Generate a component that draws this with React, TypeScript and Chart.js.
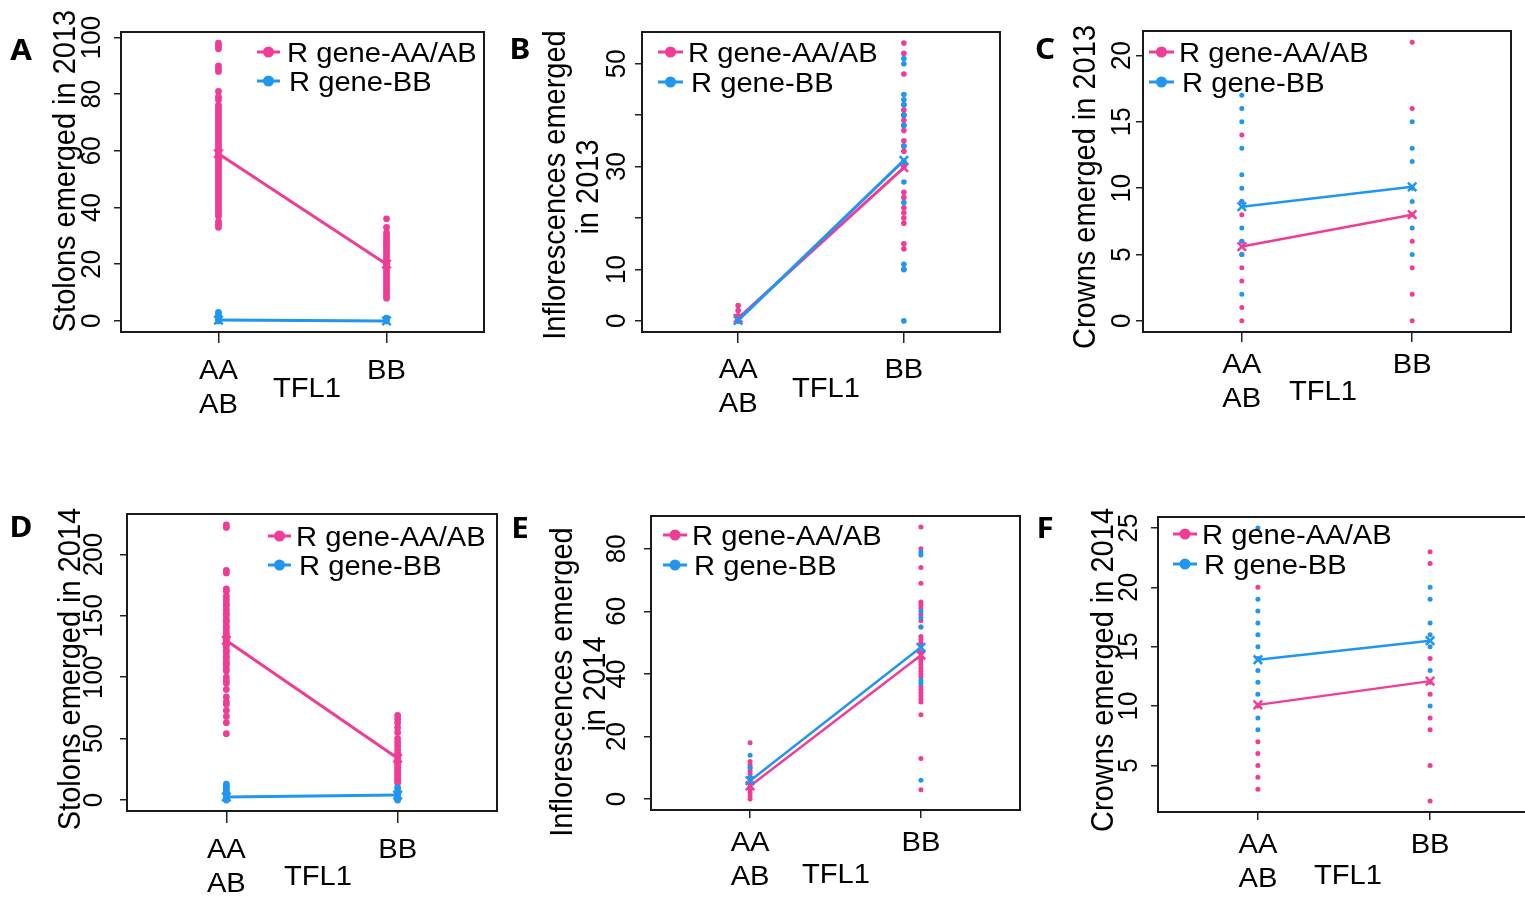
import React, { useEffect, useRef } from 'react';
import { Chart, registerables } from 'chart.js';

Chart.register(...registerables);

const PINK = '#F03C96';
const BLUE = '#2196F0';
const INK = '#000000';
const FONT = "'Liberation Sans', Arial, Helvetica, sans-serif";
const LETTER_FONT = "'Noto Sans', 'Open Sans', 'DejaVu Sans', sans-serif";
const STRETCH = 1.08;

const GENOTYPE_POS = [0, 1];
const GENOTYPE_LABELS = [['AA', 'AB'], ['BB']];
const X_TITLE = 'TFL1';
const LEGEND_LABELS = ['R gene-AA/AB', 'R gene-BB'];

// ---------- Panel A : stolons 2013 ----------
const A_PINK_AA = [98, 97, 96, 90, 89, 88, 81, 79, 78, 76, 75, 74, 73, 72, 71, 70, 69, 68, 67, 66, 65, 64, 63, 62, 61, 60, 59, 58, 57, 56, 55, 54, 53, 52, 51, 50, 49, 48, 47, 46, 45, 44, 43, 42, 41, 40, 39, 38, 37, 35, 34, 33];
const A_PINK_BB = [36, 33, 31, 30, 29, 28, 27, 26, 25, 24, 23, 22, 21, 20, 19, 18, 17, 16, 15, 14, 13, 12, 11, 10, 9, 8];
const A_BLUE_AA = [3, 2, 1, 0];
const A_BLUE_BB = [1, 0];
const A_MEAN_PINK = [59, 20];
const A_MEAN_BLUE = [0.3, 0];
const A_Y_TICKS = [0, 20, 40, 60, 80, 100];
const A_Y_LABELS = [0, 20, 40, 60, 80, 100];
const A_Y_TITLE = ['Stolons emerged in 2013'];

// ---------- Panel B : inflorescences 2013 ----------
const B_PINK_AA = [3, 2, 1, 0];
const B_PINK_BB = [54, 52, 48, 42, 41, 40, 39, 38, 37, 35, 34, 33, 30, 25, 24, 22, 21, 20, 19, 15, 14, 10];
const B_BLUE_AA = [0];
const B_BLUE_BB = [51, 50, 44, 43, 42, 40, 38, 34, 31, 27, 23, 11, 10, 0];
const B_MEAN_PINK = [0.5, 29.8];
const B_MEAN_BLUE = [0.1, 31.2];
const B_Y_TICKS = [0, 10, 20, 30, 40, 50];
const B_Y_LABELS = [0, 10, 30, 50];
const B_Y_TITLE = ['Inflorescences emerged', 'in 2013'];

// ---------- Panel C : crowns 2013 ----------
const C_PINK_AA = [14, 9, 8, 6, 5, 4, 3, 1, 0];
const C_PINK_BB = [21, 16, 8, 6, 4, 2, 0];
const C_BLUE_AA = [17, 16, 15, 13, 11, 10, 9, 7, 6, 5, 2];
const C_BLUE_BB = [15, 13, 12, 10, 9, 7, 5];
const C_MEAN_PINK = [5.6, 8.0];
const C_MEAN_BLUE = [8.6, 10.1];
const C_Y_TICKS = [0, 5, 10, 15, 20];
const C_Y_LABELS = [0, 5, 10, 15, 20];
const C_Y_TITLE = ['Crowns emerged in 2013'];

// ---------- Panel D : stolons 2014 ----------
const D_PINK_AA = [224, 222, 187, 185, 172, 170, 166, 163, 160, 158, 155, 152, 150, 147, 145, 142, 140, 137, 135, 132, 130, 127, 125, 122, 120, 117, 115, 112, 110, 107, 105, 100, 97, 95, 90, 84, 80, 78, 73, 68, 63, 54];
const D_PINK_BB = [69, 66, 63, 59, 55, 50, 47, 44, 41, 38, 36, 33, 30, 28, 26, 24, 22, 20, 18, 16, 14];
const D_BLUE_AA = [13, 11, 9, 7, 5, 3, 1, 0];
const D_BLUE_BB = [10, 7, 5, 3, 1, 0];
const D_MEAN_PINK = [130, 34];
const D_MEAN_BLUE = [2.5, 4];
const D_Y_TICKS = [0, 50, 100, 150, 200];
const D_Y_LABELS = [0, 50, 100, 150, 200];
const D_Y_TITLE = ['Stolons emerged in 2014'];

// ---------- Panel E : inflorescences 2014 ----------
const E_PINK_AA = [18, 12, 11, 10, 9, 8, 7, 6, 5, 4, 3, 2, 1, 0];
const E_PINK_BB = [87, 80, 74, 69, 63, 62, 61, 59, 57, 55, 52, 51, 50, 49, 47, 45, 44, 43, 42, 41, 40, 39, 36, 35, 34, 33, 32, 31, 27, 13, 3];
const E_BLUE_AA = [14, 10, 7];
const E_BLUE_BB = [79, 78, 60, 58, 55, 38, 37, 6];
const E_MEAN_PINK = [4.2, 46];
const E_MEAN_BLUE = [5.9, 48.5];
const E_Y_TICKS = [0, 20, 40, 60, 80];
const E_Y_LABELS = [0, 20, 40, 60, 80];
const E_Y_TITLE = ['Inflorescences emerged', 'in 2014'];

// ---------- Panel F : crowns 2014 ----------
const F_PINK_AA = [20, 10, 7, 6, 5, 4, 3];
const F_PINK_BB = [23, 22, 14, 12, 11, 9, 8, 5, 2];
const F_BLUE_AA = [25, 19, 18, 17, 16, 15, 14, 13, 12, 11, 9, 8];
const F_BLUE_BB = [20, 19, 17, 16, 15, 13, 10];
const F_MEAN_PINK = [10.1, 12.1];
const F_MEAN_BLUE = [13.9, 15.5];
const F_Y_TICKS = [5, 10, 15, 20, 25];
const F_Y_LABELS = [5, 10, 15, 20, 25];
const F_Y_TITLE = ['Crowns emerged in 2014'];

type PanelCfg = {
  letter: string;
  letterAt: number[];
  canvas: number[];
  box: number[];
  yRange: number[];
  yTicks: number[];
  yLabels: number[];
  yLabelX: number;
  yTitle: string[];
  yTitleAt: number[][];
  pinkAA: number[];
  pinkBB: number[];
  blueAA: number[];
  blueBB: number[];
  meanPink: number[];
  meanBlue: number[];
  legend: { x0: number; x1: number; ys: number[]; tx: number[] };
  tflAt: number[];
  xLabelDy: number;
  xTickLen: number;
  dotR: number;
  lineW: number;
};

const PANELS: PanelCfg[] = [
  {
    letter: 'A', letterAt: [21, 52], canvas: [0, 0, 500, 430], box: [121, 32, 484, 332],
    yRange: [-3.92, 101.92], yTicks: A_Y_TICKS, yLabels: A_Y_LABELS, yLabelX: 100,
    yTitle: A_Y_TITLE, yTitleAt: [[75, 171]],
    pinkAA: A_PINK_AA, pinkBB: A_PINK_BB, blueAA: A_BLUE_AA, blueBB: A_BLUE_BB,
    meanPink: A_MEAN_PINK, meanBlue: A_MEAN_BLUE,
    legend: { x0: 257, x1: 280, ys: [52, 81], tx: [287, 289] },
    tflAt: [307, 390], xLabelDy: 40, xTickLen: 11, dotR: 3.4, lineW: 3,
  },
  {
    letter: 'B', letterAt: [520, 51], canvas: [500, 0, 520, 430], box: [642, 32, 1000, 332],
    yRange: [-2.16, 56.16], yTicks: B_Y_TICKS, yLabels: B_Y_LABELS, yLabelX: 625,
    yTitle: B_Y_TITLE, yTitleAt: [[565, 185], [598, 187]],
    pinkAA: B_PINK_AA, pinkBB: B_PINK_BB, blueAA: B_BLUE_AA, blueBB: B_BLUE_BB,
    meanPink: B_MEAN_PINK, meanBlue: B_MEAN_BLUE,
    legend: { x0: 658, x1: 683, ys: [52, 82], tx: [688, 691] },
    tflAt: [826, 390], xLabelDy: 39, xTickLen: 11, dotR: 2.8, lineW: 3,
  },
  {
    letter: 'C', letterAt: [1045, 51], canvas: [1020, 0, 505, 430], box: [1143, 31, 1511, 332],
    yRange: [-0.84, 21.84], yTicks: C_Y_TICKS, yLabels: C_Y_LABELS, yLabelX: 1130,
    yTitle: C_Y_TITLE, yTitleAt: [[1095, 187]],
    pinkAA: C_PINK_AA, pinkBB: C_PINK_BB, blueAA: C_BLUE_AA, blueBB: C_BLUE_BB,
    meanPink: C_MEAN_PINK, meanBlue: C_MEAN_BLUE,
    legend: { x0: 1149, x1: 1174, ys: [52, 82], tx: [1179, 1182] },
    tflAt: [1323, 393], xLabelDy: 34, xTickLen: 10, dotR: 2.5, lineW: 2.5,
  },
  {
    letter: 'D', letterAt: [21, 529], canvas: [0, 470, 510, 428], box: [127, 514, 497, 811],
    yRange: [-8.96, 232.96], yTicks: D_Y_TICKS, yLabels: D_Y_LABELS, yLabelX: 102,
    yTitle: D_Y_TITLE, yTitleAt: [[80, 669]],
    pinkAA: D_PINK_AA, pinkBB: D_PINK_BB, blueAA: D_BLUE_AA, blueBB: D_BLUE_BB,
    meanPink: D_MEAN_PINK, meanBlue: D_MEAN_BLUE,
    legend: { x0: 268, x1: 291, ys: [536, 565], tx: [296, 299] },
    tflAt: [318, 878], xLabelDy: 40, xTickLen: 12, dotR: 3.4, lineW: 3,
  },
  {
    letter: 'E', letterAt: [520, 530], canvas: [510, 470, 520, 428], box: [651, 516, 1020, 810],
    yRange: [-3.48, 90.48], yTicks: E_Y_TICKS, yLabels: E_Y_LABELS, yLabelX: 625,
    yTitle: E_Y_TITLE, yTitleAt: [[572, 682], [605, 684]],
    pinkAA: E_PINK_AA, pinkBB: E_PINK_BB, blueAA: E_BLUE_AA, blueBB: E_BLUE_BB,
    meanPink: E_MEAN_PINK, meanBlue: E_MEAN_BLUE,
    legend: { x0: 663, x1: 687, ys: [535, 565], tx: [692, 694] },
    tflAt: [836, 876], xLabelDy: 34, xTickLen: 8, dotR: 2.5, lineW: 2.5,
  },
  {
    letter: 'F', letterAt: [1045, 530], canvas: [1030, 470, 520, 428], box: [1158, 517, 1530, 812],
    yRange: [1.08, 25.92], yTicks: F_Y_TICKS, yLabels: F_Y_LABELS, yLabelX: 1137,
    yTitle: F_Y_TITLE, yTitleAt: [[1113, 670]],
    pinkAA: F_PINK_AA, pinkBB: F_PINK_BB, blueAA: F_BLUE_AA, blueBB: F_BLUE_BB,
    meanPink: F_MEAN_PINK, meanBlue: F_MEAN_BLUE,
    legend: { x0: 1173, x1: 1197, ys: [534, 564], tx: [1202, 1204] },
    tflAt: [1348, 877], xLabelDy: 34, xTickLen: 8, dotR: 2.5, lineW: 2.5,
  },
];

function drawText(
  ctx: CanvasRenderingContext2D, s: string, x: number, y: number,
  font: string, align: CanvasTextAlign, baseline: CanvasTextBaseline, rotate = false,
) {
  ctx.save();
  ctx.translate(x, y);
  ctx.scale(STRETCH, 1);
  if (rotate) ctx.rotate(-Math.PI / 2);
  ctx.font = font;
  ctx.fillStyle = INK;
  ctx.textAlign = align;
  ctx.textBaseline = baseline;
  ctx.fillText(s, 0, 0);
  ctx.restore();
}

function toPoints(aa: number[], bb: number[]) {
  return [
    ...aa.map((v) => ({ x: GENOTYPE_POS[0], y: v })),
    ...bb.map((v) => ({ x: GENOTYPE_POS[1], y: v })),
  ];
}

function Panel({ cfg }: { cfg: PanelCfg }) {
  const ref = useRef<HTMLCanvasElement>(null);
  const [ox, oy, w, h] = cfg.canvas;
  const [bx0, by0, bx1, by1] = cfg.box;

  useEffect(() => {
    const decor = {
      id: 'decor' + cfg.letter,
      afterDraw(chart: any) {
        const ctx: CanvasRenderingContext2D = chart.ctx;
        const ca = chart.chartArea;
        const ys = chart.scales.y;
        const xs = chart.scales.x;
        ctx.save();
        ctx.strokeStyle = '#1a1a1a';
        ctx.lineWidth = 2;
        ctx.strokeRect(ca.left, ca.top, ca.right - ca.left, ca.bottom - ca.top);

        cfg.yLabels.forEach((v) => {
          drawText(ctx, String(v), cfg.yLabelX - ox, ys.getPixelForValue(v), `26px ${FONT}`, 'center', 'alphabetic', true);
        });
        cfg.yTitle.forEach((line, i) => {
          const [tx, ty] = cfg.yTitleAt[i];
          drawText(ctx, line, tx - ox, ty - oy, `29px ${FONT}`, 'center', 'alphabetic', true);
        });
        GENOTYPE_POS.forEach((v, i) => {
          const px = xs.getPixelForValue(v);
          GENOTYPE_LABELS[i].forEach((lab, j) => {
            drawText(ctx, lab, px, ca.bottom + cfg.xLabelDy + j * 34, `27px ${FONT}`, 'center', 'middle');
          });
        });
        drawText(ctx, X_TITLE, cfg.tflAt[0] - ox, cfg.tflAt[1] - oy, `27px ${FONT}`, 'center', 'middle');
        drawText(ctx, cfg.letter, cfg.letterAt[0] - ox, cfg.letterAt[1] - oy, `bold 29px ${LETTER_FONT}`, 'center', 'middle');

        const cols = [PINK, BLUE];
        cfg.legend.ys.forEach((ly, i) => {
          const y = ly - oy;
          const x0 = cfg.legend.x0 - ox;
          const x1 = cfg.legend.x1 - ox;
          ctx.strokeStyle = cols[i];
          ctx.lineWidth = 3;
          ctx.beginPath();
          ctx.moveTo(x0, y);
          ctx.lineTo(x1, y);
          ctx.stroke();
          ctx.fillStyle = cols[i];
          ctx.beginPath();
          ctx.arc((x0 + x1) / 2, y, 5.5, 0, Math.PI * 2);
          ctx.fill();
          drawText(ctx, LEGEND_LABELS[i], cfg.legend.tx[i] - ox, y + 3, `27px ${FONT}`, 'left', 'middle');
        });
        ctx.restore();
      },
    };

    const meanLine = (vals: number[], color: string) => ({
      data: vals.map((v, i) => ({ x: GENOTYPE_POS[i], y: v })),
      showLine: true,
      borderColor: color,
      borderWidth: cfg.lineW,
      pointStyle: 'crossRot',
      pointRadius: 6,
      pointBorderColor: color,
      pointBorderWidth: 2.5,
      pointBackgroundColor: color,
      fill: false,
    });

    const chart = new Chart(ref.current as HTMLCanvasElement, {
      type: 'scatter',
      data: {
        datasets: [
          { data: toPoints(cfg.pinkAA, cfg.pinkBB), pointRadius: cfg.dotR, pointBackgroundColor: PINK, pointBorderWidth: 0, order: 4 } as any,
          { data: toPoints(cfg.blueAA, cfg.blueBB), pointRadius: cfg.dotR, pointBackgroundColor: BLUE, pointBorderWidth: 0, order: 3 } as any,
          { ...meanLine(cfg.meanPink, PINK), order: 2 } as any,
          { ...meanLine(cfg.meanBlue, BLUE), order: 1 } as any,
        ],
      },
      options: {
        animation: false,
        responsive: false,
        maintainAspectRatio: false,
        events: [],
        layout: {
          autoPadding: false,
          padding: { left: 0, top: by0 - oy, right: ox + w - bx1, bottom: 0 },
        },
        plugins: { legend: { display: false }, tooltip: { enabled: false } },
        scales: {
          x: {
            type: 'linear',
            min: -0.58,
            max: 1.58,
            afterBuildTicks: (s: any) => { s.ticks = GENOTYPE_POS.map((v) => ({ value: v })); },
            afterFit: (s: any) => { s.height = oy + h - by1; },
            ticks: { display: false },
            grid: { drawOnChartArea: false, drawTicks: true, tickLength: cfg.xTickLen, color: '#222', lineWidth: 1.5 },
            border: { display: false },
          },
          y: {
            type: 'linear',
            min: cfg.yRange[0],
            max: cfg.yRange[1],
            afterBuildTicks: (s: any) => { s.ticks = cfg.yTicks.map((v) => ({ value: v })); },
            afterFit: (s: any) => { s.width = bx0 - ox; },
            ticks: { display: false },
            grid: { drawOnChartArea: false, drawTicks: true, tickLength: 7, color: '#222', lineWidth: 1.5 },
            border: { display: false },
          },
        },
      } as any,
      plugins: [decor],
    });
    return () => chart.destroy();
  }, [cfg]);

  return (
    <canvas
      ref={ref}
      width={w}
      height={h}
      style={{ position: 'absolute', left: ox, top: oy, width: w, height: h }}
    />
  );
}

export default function App() {
  return (
    <div
      style={{
        position: 'fixed', left: 0, top: 0, width: 1525, height: 898,
        overflow: 'hidden', background: '#ffffff',
      }}
    >
      {PANELS.map((p) => (
        <Panel key={p.letter} cfg={p} />
      ))}
    </div>
  );
}
